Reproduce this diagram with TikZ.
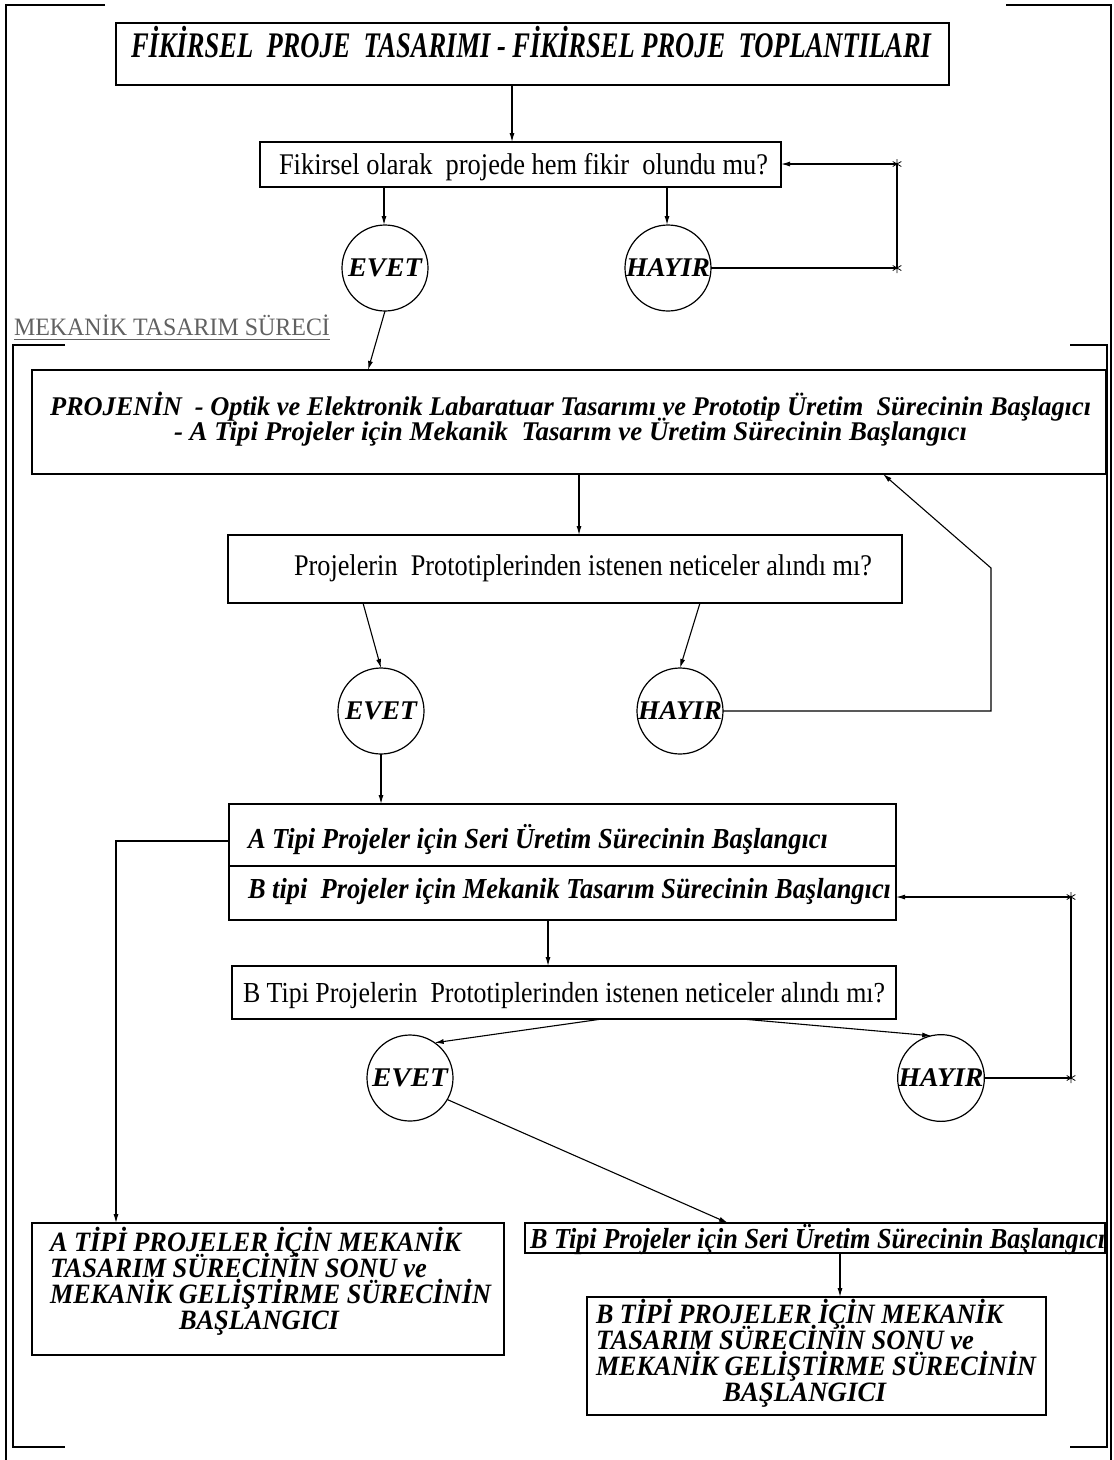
\documentclass[tikz,border=0pt]{standalone}
\usepackage{fontspec}
\setmainfont{Liberation Serif}
\usetikzlibrary{arrows.meta,calc}
% squeeze a line of text to a given width (in pt) without changing its height
\newcommand\fitw[2]{\resizebox{#1pt}{\height}{#2}}
\newcommand\bisize[1]{\fontsize{#1}{#1}\selectfont\bfseries\itshape}
\newcommand\rgsize[1]{\fontsize{#1}{#1}\selectfont}
\begin{document}
\begin{tikzpicture}[x=1pt,y=-1pt,
  box/.style={draw,line width=1.5pt,inner sep=0pt,outer sep=0pt},
  txt/.style={inner sep=0pt,outer sep=0pt,anchor=base west},
  ring/.style={draw,circle,line width=1.2pt,minimum size=86pt,inner sep=0pt,outer sep=0pt},
  link/.style={line width=1.1pt},
  arr/.style={link,-{Latex[length=9pt,width=5pt]}},
  frame/.style={line width=1.6pt},
  astk/.pic={\draw[line width=0.8pt] (0,-5)--(0,5) (-4.3,-2.5)--(4.3,2.5) (-4.3,2.5)--(4.3,-2.5);}
]
\useasboundingbox (0,0) rectangle (1114,1460);

% page frames
\draw[frame] (105,5) -- (6,5) -- (6,1460);
\draw[frame] (1006,5) -- (1111,5) -- (1111,1460);
\draw[frame] (65,345) -- (13,345) -- (13,1447) -- (65,1447);
\draw[frame] (1070,345) -- (1107,345) -- (1107,1447) -- (1070,1447);

% boxes
\node[box,minimum width=833pt,minimum height=62pt] (top) at (532.5,54) {};
\node[box,minimum width=521pt,minimum height=45pt] (q1) at (520.5,164.5) {};
\node[box,minimum width=1074pt,minimum height=104pt] (proj) at (569,422) {};
\node[box,minimum width=674pt,minimum height=68pt] (q2) at (565,569) {};
\node[box,minimum width=667pt,minimum height=116pt] (ab) at (562.5,862) {};
\node[box,minimum width=664pt,minimum height=53pt] (q3) at (564,992.5) {};
\node[box,minimum width=580pt,minimum height=30pt] (bseri) at (815,1238) {};
\node[box,minimum width=472pt,minimum height=132pt] (finA) at (268,1289) {};
\node[box,minimum width=459pt,minimum height=118pt] (finB) at (816.5,1356) {};
\coordinate (dv) at (562,866);
\draw[line width=1.5pt] (ab.west |- dv) -- (ab.east |- dv);

% yes / no circles
\node[ring] (e1) at (385,268) {\bisize{27}\fitw{74}{EVET}};
\node[ring] (h1) at (668,268) {\bisize{27}\fitw{84}{HAYIR}};
\node[ring] (e2) at (381,711) {\bisize{27}\fitw{72}{EVET}};
\node[ring] (h2) at (680,711) {\bisize{27}\fitw{84}{HAYIR}};
\node[ring] (e3) at (410,1078) {\bisize{27}\fitw{76}{EVET}};
\node[ring] (h3) at (941,1078) {\bisize{27}\fitw{85}{HAYIR}};

% texts
\node[txt] (topt) at (131,57) {\bisize{36}\fitw{800}{FİKİRSEL\ \ PROJE\ \ TASARIMI - FİKİRSEL PROJE\ \ TOPLANTILARI}};
\node[txt] (q1t) at (279,174) {\rgsize{30}\fitw{489}{Fikirsel olarak\ \ projede hem fikir\ \ olundu mu?}};
\node[txt,text=black!62] (mek) at (14,335) {\rgsize{25}\fitw{316}{MEKANİK TASARIM SÜRECİ}};
\draw[black!62,line width=1.1pt] ([yshift=-4pt]mek.south west) -- ([yshift=-4pt]mek.south east);
\node[txt] (p1) at (50,415) {\bisize{27}\fitw{1041}{PROJENİN\ \ - Optik ve Elektronik Labaratuar Tasarımı ve Prototip Üretim\ \ Sürecinin Başlagıcı}};
\node[txt] (p2) at (174,440) {\bisize{27}\fitw{793}{- A Tipi Projeler için Mekanik\ \ Tasarım ve Üretim Sürecinin Başlangıcı}};
\node[txt] (q2t) at (294,575) {\rgsize{30}\fitw{578}{Projelerin\ \ Prototiplerinden istenen neticeler alındı mı?}};
\node[txt] (rowa) at (248,848) {\bisize{29}\fitw{580}{A Tipi Projeler için Seri Üretim Sürecinin Başlangıcı}};
\node[txt] (rowb) at (248,898) {\bisize{29}\fitw{643}{B tipi\ \ Projeler için Mekanik Tasarım Sürecinin Başlangıcı}};
\node[txt] (q3t) at (243,1002) {\rgsize{29}\fitw{642}{B Tipi Projelerin\ \ Prototiplerinden istenen neticeler alındı mı?}};
\node[txt] (bst) at (530,1248) {\bisize{29}\fitw{575}{B Tipi Projeler için Seri Üretim Sürecinin Başlangıcı}};
\node[txt] (fa1) at (50,1251) {\bisize{28}\fitw{411}{A TİPİ PROJELER İÇİN MEKANİK}};
\node[txt] (fa2) at (50,1277) {\bisize{28}\fitw{377}{TASARIM SÜRECİNİN SONU ve}};
\node[txt] (fa3) at (50,1303) {\bisize{28}\fitw{441}{MEKANİK GELİŞTİRME SÜRECİNİN}};
\node[txt] (fa4) at (179,1329) {\bisize{28}\fitw{160}{BAŞLANGICI}};
\node[txt] (fb1) at (596,1323) {\bisize{28}\fitw{407}{B TİPİ PROJELER İÇİN MEKANİK}};
\node[txt] (fb2) at (596,1349) {\bisize{28}\fitw{378}{TASARIM SÜRECİNİN SONU ve}};
\node[txt] (fb3) at (596,1375) {\bisize{28}\fitw{440}{MEKANİK GELİŞTİRME SÜRECİNİN}};
\node[txt] (fb4) at (723,1401) {\bisize{28}\fitw{163}{BAŞLANGICI}};

% connector columns and bends
\coordinate (c1) at (512,0);
\coordinate (c2) at (384,0);
\coordinate (c3) at (667,0);
\coordinate (c4) at (368,0);
\coordinate (c5) at (579,0);
\coordinate (c6) at (363,0);
\coordinate (c7) at (700,0);
\coordinate (c8) at (883,0);
\coordinate (c9) at (548,0);
\coordinate (c10) at (602,0);
\coordinate (c11) at (742,0);
\coordinate (c12) at (728,0);
\coordinate (c13) at (840,0);
\coordinate (k1) at (897,164);
\coordinate (k2) at (991,568);
\coordinate (k3) at (1071,897);
\coordinate (ja) at (116,841);

% connectors
\draw[arr] (top.south -| c1) -- (q1.north -| c1);
\draw[arr] (q1.south -| c2) -- (e1.north -| c2);
\draw[arr] (q1.south -| c3) -- (h1.north -| c3);
\draw[arr] (h1.east) -- (h1.east -| k1) -- (k1) -- (q1.east |- k1);
\pic at (h1.east -| k1) {astk};
\pic at (k1) {astk};
\draw[arr] (e1.south) -- (proj.north -| c4);
\draw[arr] (proj.south -| c5) -- (q2.north -| c5);
\draw[arr] (q2.south -| c6) -- (e2.north);
\draw[arr] (q2.south -| c7) -- (h2.north);
\draw[arr] (h2.east) -- (h2.east -| k2) -- (k2) -- (proj.south -| c8);
\draw[arr] (e2.south) -- (e2.south |- ab.north);
\draw[arr] (ab.west |- ja) -- (ja) -- (ja |- finA.north);
\draw[arr] (h3.east) -- (h3.east -| k3) -- (k3) -- (ab.east |- k3);
\pic at (h3.east -| k3) {astk};
\pic at (k3) {astk};
\draw[arr] (ab.south -| c9) -- (q3.north -| c9);
\draw[arr] (q3.south -| c10) -- (e3.55);
\draw[arr] (q3.south -| c11) -- (h3.103);
\draw[arr] (e3.-30) -- (bseri.north -| c12);
\draw[arr] (bseri.south -| c13) -- (finB.north -| c13);
\end{tikzpicture}
\end{document}
